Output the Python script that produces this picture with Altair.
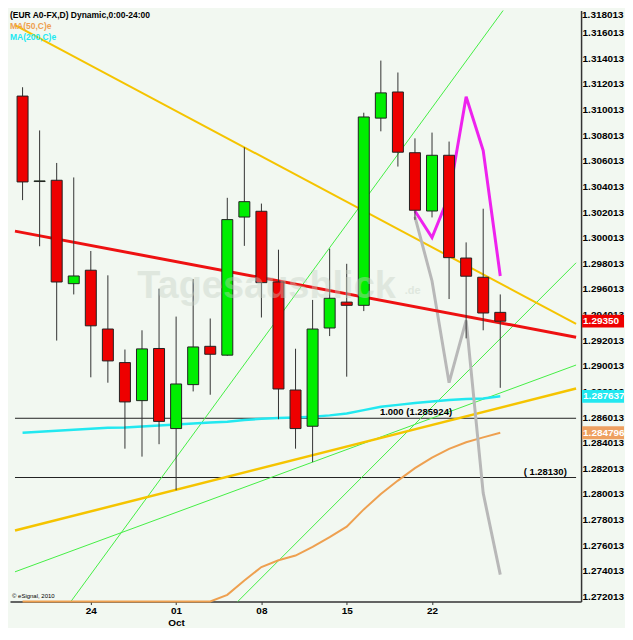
import altair as alt
import pandas as pd

# ---------------- data ----------------
IDX = list(range(29))  # trading days, 18 Sep .. 26 Oct
OPEN = [1.31107, 1.30440, 1.30450, 1.29643, 1.29748, 1.29289, 1.29027, 1.28730, 1.29137, 1.28512,
        1.28855, 1.29154, 1.29085, 1.30163, 1.30208, 1.29656, 1.28813, 1.28530, 1.29297, 1.29499,
        1.29474, 1.30935, 1.31139, 1.30665, 1.30210, 1.30645, 1.29843, 1.29693, 1.29419]
HIGH = [1.31176, 1.30839, 1.30585, 1.30472, 1.29898, 1.29708, 1.29129, 1.29279, 1.29604, 1.29386,
        1.29678, 1.29371, 1.30313, 1.30707, 1.30268, 1.29908, 1.29135, 1.29516, 1.29916, 1.29798,
        1.30977, 1.31384, 1.31291, 1.30777, 1.30822, 1.30752, 1.29965, 1.30228, 1.29559]
LOW = [1.30295, 1.29935, 1.29199, 1.29559, 1.28912, 1.28870, 1.28355, 1.28293, 1.28390, 1.28031,
       1.28802, 1.28776, 1.29080, 1.29938, 1.29379, 1.28585, 1.28355, 1.28250, 1.29234, 1.28917,
       1.29429, 1.30832, 1.30557, 1.30141, 1.30160, 1.29523, 1.29216, 1.29279, 1.28830]
CLOSE = [1.30437, 1.30445, 1.29656, 1.29703, 1.29314, 1.29040, 1.28720, 1.29134, 1.28568, 1.28860,
         1.29149, 1.29092, 1.30143, 1.30283, 1.29651, 1.28821, 1.28512, 1.29289, 1.29529, 1.29474,
         1.30944, 1.31132, 1.30669, 1.30216, 1.30645, 1.29846, 1.29701, 1.29414, 1.29350]
MA200 = [1.28480, 1.28488, 1.28495, 1.28503, 1.28510, 1.28518, 1.28521, 1.28529, 1.28536, 1.28544,
         1.28551, 1.28559, 1.28566, 1.28578, 1.28589, 1.28594, 1.28598, 1.28604, 1.28615, 1.28630,
         1.28656, 1.28682, 1.28697, 1.28712, 1.28724, 1.28735, 1.28742, 1.28746, 1.287637]
MA50 = [1.27162, 1.27162, 1.27162, 1.27162, 1.27162, 1.27162, 1.27162, 1.27162, 1.27162, 1.27162,
        1.27162, 1.27162, 1.27214, 1.27327, 1.27431, 1.27484, 1.27521, 1.27589, 1.27664, 1.27746,
        1.27881, 1.28001, 1.28106, 1.28203, 1.28285, 1.28353, 1.28405, 1.28443, 1.284796]

PROJ_X = [23, 24, 25, 26, 27, 28]
MAGENTA = [1.30210, 1.30003, 1.30330, 1.31102, 1.30682, 1.29703]
GRAY = [1.30165, 1.29664, 1.28870, 1.29356, 1.28008, 1.27372]

RED_X, RED_Y = [-0.444, 32.444], [1.30053, 1.29225]
YUP_X, YUP_Y = [-0.444, 32.444], [1.31660, 1.29329]
YLO_X, YLO_Y = [-0.444, 32.444], [1.27716, 1.28825]
G1_X, G1_Y = [2.833, 28.167], [1.27162, 1.31775]
G2_X, G2_Y = [-0.444, 32.444], [1.27394, 1.29008]
G3_X, G3_Y = [12.611, 32.444], [1.27162, 1.29806]
HLINES = [1.285924, 1.28130]

Y_TICKS = [1.272013, 1.274013, 1.276013, 1.278013, 1.280013, 1.282013, 1.284013, 1.286013,
           1.288013, 1.290013, 1.292013, 1.294013, 1.296013, 1.298013, 1.300013, 1.302013,
           1.304013, 1.306013, 1.308013, 1.310013, 1.312013, 1.314013, 1.316013]
TOP_TICK = "1.318013"
X_TICKS = [4, 9, 14, 19, 24]
X_LABELS = ["24", "01", "08", "15", "22"]
MONTH_AT, MONTH = 9, "Oct"

BOX_V = [1.29350, 1.287637, 1.284796]
BOX_T = ["1.29350", "1.287637", "1.284796"]
BOX_C = ["#ee0000", "#22e8f0", "#eea060"]

# ---------------- layout / style ----------------
W, H = 572, 592
XMIN, XMAX = -0.444, 32.444
YMIN, YMAX = 1.27162, 1.31775
FONT = "Liberation Sans, Arial"
BG = "#f2f8f1"

XS = alt.Scale(domain=[XMIN, XMAX], nice=False, zero=False)
YS = alt.Scale(domain=[YMIN, YMAX], nice=False, zero=False)

parts = []
for p, l in zip(X_TICKS, X_LABELS):
    lab = f"['{l}', '{MONTH}']" if p == MONTH_AT else f"'{l}'"
    parts.append(f"datum.value == {p} ? {lab}")
label_expr = " : ".join(parts) + " : ''"

XAX = alt.Axis(values=X_TICKS, labelExpr=label_expr, grid=False, domainColor="#333333",
               domainWidth=1.5, tickColor="#333333", tickSize=3, labelFont=FONT,
               labelFontSize=10, labelFontWeight="bold", labelColor="#000000",
               labelPadding=1, labelLineHeight=12, title=None, labelFlush=False,
               labelOverlap=False)
YAX = alt.Axis(orient="right", values=Y_TICKS, format=".6f", grid=False, ticks=False,
               domainColor="#333333", domainWidth=1.5, labelFont=FONT, labelFontSize=10,
               labelFontWeight="bold", labelColor="#000000", labelPadding=1, title=None,
               labelOverlap=False, labelFlush=False)


def X(field="i"):
    return alt.X(f"{field}:Q", scale=XS, axis=XAX)


def Y(field="v"):
    return alt.Y(f"{field}:Q", scale=YS, axis=YAX)


def seg(xs, ys, color, width, opacity=1.0):
    d = pd.DataFrame({"i": xs, "v": ys})
    return alt.Chart(d).mark_line(color=color, strokeWidth=width, opacity=opacity).encode(
        x=X(), y=Y())


candles = pd.DataFrame({"i": IDX, "open": OPEN, "high": HIGH, "low": LOW, "close": CLOSE})

layers = []
for hv in HLINES:
    layers.append(seg([XMIN, XMAX], [hv, hv], "#222222", 1))
layers.append(seg(G1_X, G1_Y, "#44ee44", 1))
layers.append(seg(G2_X, G2_Y, "#44ee44", 1))
layers.append(seg(G3_X, G3_Y, "#44ee44", 1))
layers.append(seg(YUP_X, YUP_Y, "#f5c400", 2))
layers.append(seg(YLO_X, YLO_Y, "#f5c400", 2.5))
layers.append(seg(IDX, MA200, "#22e8f0", 2.5))
layers.append(seg(IDX, MA50, "#eea050", 2))
layers.append(seg(PROJ_X, GRAY, "#b8b8b8", 3))
layers.append(seg(PROJ_X, MAGENTA, "#ee22ee", 3))
layers.append(seg(RED_X, RED_Y, "#ee1111", 3))

wicks = alt.Chart(candles).mark_rule(color="#333333", strokeWidth=1).encode(
    x=X(), y=Y("low"), y2="high:Q")
bodies = alt.Chart(candles).mark_bar(size=11, stroke="#222222", strokeWidth=1).encode(
    x=X(), y=Y("open"), y2="close:Q",
    color=alt.condition("datum.close >= datum.open", alt.value("#00ee00"), alt.value("#ee0000")))
layers += [wicks, bodies]

# labels on horizontal lines
lab_c = pd.DataFrame({"i": [23.06], "v": [HLINES[0]], "t": ["1.000 (1.285924)"]})
lab_r = pd.DataFrame({"i": [31.9], "v": [HLINES[1]], "t": ["( 1.28130)"]})
layers.append(alt.Chart(lab_c).mark_text(
    align="center", baseline="bottom", dy=-1, font=FONT, fontSize=9.5, fontWeight="bold",
    color="#000000").encode(x=X(), y=Y(), text="t:N"))
layers.append(alt.Chart(lab_r).mark_text(
    align="right", baseline="bottom", dy=-1, font=FONT, fontSize=9.5, fontWeight="bold",
    color="#000000").encode(x=X(), y=Y(), text="t:N"))

# watermark
wm = pd.DataFrame({"i": [14.3], "v": [1.29529], "t": ["Tagesausblick"]})
layers.append(alt.Chart(wm).mark_text(
    align="center", baseline="alphabetic", font=FONT, fontSize=38,
    fontWeight="bold", color="#c5d0c4", opacity=0.4).encode(x=X(), y=Y(), text="t:N"))
wm2 = pd.DataFrame({"i": [22.4], "v": [1.29560], "t": [".de"]})
layers.append(alt.Chart(wm2).mark_text(
    align="left", baseline="alphabetic", font=FONT, fontSize=11,
    fontWeight="bold", color="#c5d0c4", opacity=0.4).encode(x=X(), y=Y(), text="t:N"))

# value boxes on the price axis
box_df = pd.DataFrame({"v": BOX_V, "t": BOX_T, "c": BOX_C})
layers.append(alt.Chart(box_df).transform_calculate(
    top="datum.v + 0.00050", bot="datum.v - 0.00050").mark_rect().encode(
    x=alt.value(W + 1), x2=alt.value(W + 43), y=Y("top"), y2="bot:Q",
    color=alt.Color("c:N", scale=None)))
layers.append(alt.Chart(box_df).mark_text(
    align="left", baseline="middle", font=FONT, fontSize=10, fontWeight="bold",
    color="#ffffff").encode(x=alt.value(W + 2), y=Y(), text="t:N"))

# top tick label (pushed inside like the original)
top_df = pd.DataFrame({"t": [TOP_TICK]})
layers.append(alt.Chart(top_df).mark_text(
    align="left", baseline="top", font=FONT, fontSize=10, fontWeight="bold",
    color="#000000").encode(x=alt.value(W + 1), y=alt.value(0), text="t:N"))

# header texts
hdr = [("(EUR A0-FX,D) Dynamic,0:00-24:00", "#000000", 5),
       ("MA(50,C)e", "#eea050", 16),
       ("MA(200,C)e", "#22e8f0", 27)]
for txt, col, yy in hdr:
    layers.append(alt.Chart(pd.DataFrame({"t": [txt]})).mark_text(
        align="left", baseline="middle", font=FONT, fontSize=8.5, fontWeight="bold",
        color=col).encode(x=alt.value(0), y=alt.value(yy), text="t:N"))

# copyright
layers.append(alt.Chart(pd.DataFrame({"t": ["\u00a9 eSignal, 2010"]})).mark_text(
    align="left", baseline="bottom", font=FONT, fontSize=6,
    color="#000000").encode(x=alt.value(2), y=alt.value(H - 3), text="t:N"))

chart = alt.layer(*layers).properties(
    width=W, height=H, background=BG,
    padding={"left": 0, "top": 0, "right": 0, "bottom": 0}
).configure_view(strokeWidth=0)

chart.save("out.html", embed_options={"renderer": "svg", "actions": False})
